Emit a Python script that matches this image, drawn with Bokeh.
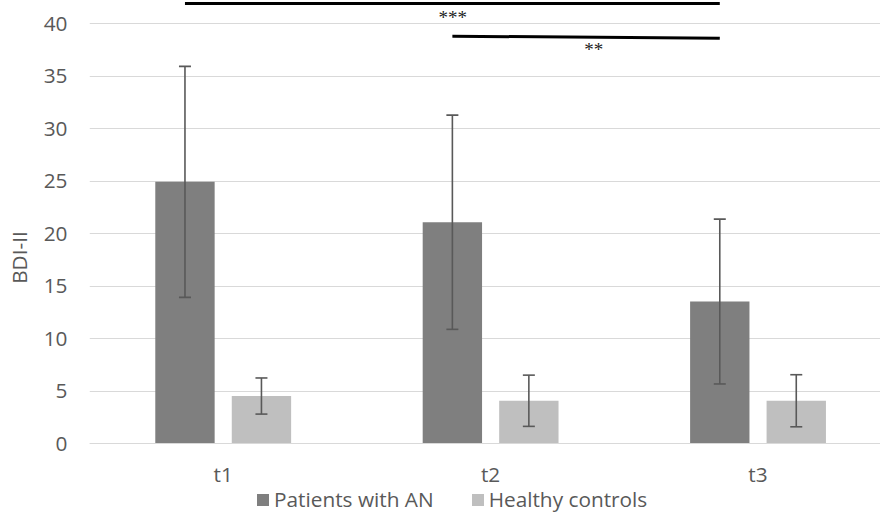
from bokeh.plotting import figure
from bokeh.models import (ColumnDataSource, Range1d, Whisker, TeeHead, Legend,
                          LegendItem, FixedTicker)
from bokeh.core.properties import value
from bokeh.embed import file_html
from bokeh.resources import INLINE

# ---- data ----
times = ["t1", "t2", "t3"]
an_mean = [24.95, 21.1, 13.55]
an_sd = [11.0, 10.2, 7.85]
hc_mean = [4.55, 4.1, 4.1]
hc_sd = [1.72, 2.44, 2.48]
series_names = ["Patients with AN", "Healthy controls"]
y_ticks = [0, 5, 10, 15, 20, 25, 30, 35, 40]
axis_title = "BDI-II"
# significance annotations: (from time, to time, label)
sig_pairs = [("t1", "t3", "***"), ("t2", "t3", "**")]

# ---- style ----
DARK = "#7f7f7f"
LIGHT = "#bfbfbf"
ERR = "#595959"
TXT = "#595959"
GRID = "#d9d9d9"
FONT = "Open Sans"
FS = "20.8px"
OFFSET = 0.143
BAR_W = 0.222

centers = [i + 0.5 for i in range(len(times))]
an_x = [c - OFFSET for c in centers]
hc_x = [c + OFFSET for c in centers]

an_src = ColumnDataSource(dict(x=an_x, top=an_mean,
                               upper=[m + s for m, s in zip(an_mean, an_sd)],
                               lower=[m - s for m, s in zip(an_mean, an_sd)]))
hc_src = ColumnDataSource(dict(x=hc_x, top=hc_mean,
                               upper=[m + s for m, s in zip(hc_mean, hc_sd)],
                               lower=[m - s for m, s in zip(hc_mean, hc_sd)]))

p = figure(width=880, height=514, x_range=Range1d(0, 2.958), y_range=Range1d(-6.733, 42.22),
           output_backend="svg", toolbar_location=None,
           min_border_left=89, min_border_right=0, min_border_top=0, min_border_bottom=0)
p.outline_line_color = None
p.background_fill_color = "white"

r_an = p.vbar(x="x", top="top", bottom=0, width=BAR_W, source=an_src,
              fill_color=DARK, line_color=None)
r_hc = p.vbar(x="x", top="top", bottom=0, width=BAR_W, source=hc_src,
              fill_color=LIGHT, line_color=None)

for src in (an_src, hc_src):
    w = Whisker(base="x", upper="upper", lower="lower", source=src, level="overlay",
                line_color=ERR, line_width=1.6,
                upper_head=TeeHead(size=12, line_color=ERR, line_width=1.6),
                lower_head=TeeHead(size=12, line_color=ERR, line_width=1.6))
    p.add_layout(w)

# significance bars
sig_line_y = [(41.93, 41.93), (38.82, 38.63)]
sig_text_pos = [(1.358, 40.57), (1.886, 37.53)]
for (a, b, lab), (y0, y1), (tx, ty) in zip(sig_pairs, sig_line_y, sig_text_pos):
    xa = an_x[times.index(a)]
    xb = an_x[times.index(b)]
    p.line([xa, xb], [y0, y1], line_color="black", line_width=3)
    p.text(x=[tx], y=[ty], text=[lab], text_font=value("Liberation Serif"),
           text_font_size="19px", text_color="#222222", text_align="center",
           text_baseline="alphabetic")

# axes
p.xaxis.fixed_location = 0
p.xaxis.ticker = FixedTicker(ticks=centers)
p.xaxis.major_label_overrides = {c: t for c, t in zip(centers, times)}
p.xaxis.axis_line_color = GRID
p.xaxis.major_tick_line_color = None
p.xaxis.major_tick_out = 0
p.xaxis.major_tick_in = 0
p.xaxis.minor_tick_line_color = None
p.xaxis.major_label_text_font = FONT
p.xaxis.major_label_text_font_size = FS
p.xaxis.major_label_text_color = TXT
p.xaxis.major_label_standoff = 16

p.yaxis.ticker = FixedTicker(ticks=y_ticks)
p.yaxis.axis_line_color = None
p.yaxis.major_tick_line_color = None
p.yaxis.major_tick_out = 0
p.yaxis.major_tick_in = 0
p.yaxis.minor_tick_line_color = None
p.yaxis.major_label_text_font = FONT
p.yaxis.major_label_text_font_size = FS
p.yaxis.major_label_text_color = TXT
p.yaxis.major_label_standoff = 22
p.yaxis.axis_label = axis_title
p.yaxis.axis_label_text_font = FONT
p.yaxis.axis_label_text_font_size = FS
p.yaxis.axis_label_text_font_style = "normal"
p.yaxis.axis_label_text_color = TXT
p.yaxis.axis_label_standoff = 8

p.xgrid.visible = False
p.ygrid.ticker = FixedTicker(ticks=y_ticks)
p.ygrid.grid_line_color = GRID
p.ygrid.grid_line_width = 1

legend = Legend(items=[LegendItem(label=series_names[0], renderers=[r_an]),
                       LegendItem(label=series_names[1], renderers=[r_hc])],
                orientation="horizontal", location=(166, 1),
                glyph_width=15, glyph_height=15, label_standoff=4, spacing=36,
                padding=0, margin=0, border_line_color=None,
                background_fill_alpha=0,
                label_text_font=FONT, label_text_font_size=FS, label_text_color=TXT)
p.add_layout(legend, "center")

open("out.html", "w").write(file_html(p, INLINE))
